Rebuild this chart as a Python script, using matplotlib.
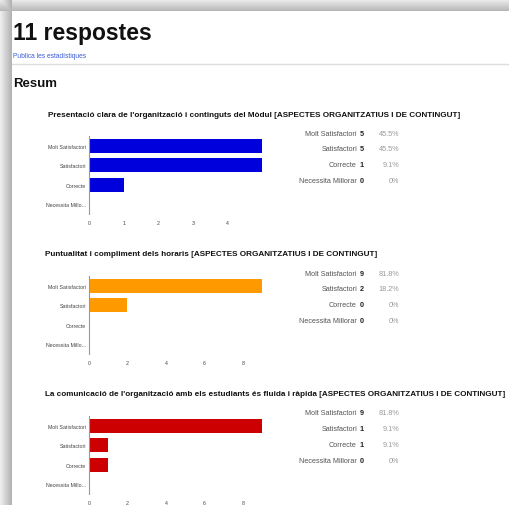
import numpy as np
import matplotlib.pyplot as plt

# survey data (11 responses)
n_total = 11
categories = ['Molt Satisfactori', 'Satisfactori', 'Correcte', 'Necessita Millorar']
axis_labels = ['Molt Satisfactori', 'Satisfactori', 'Correcte', 'Necessita Millo...']
q1 = [5, 5, 1, 0]
q2 = [9, 2, 0, 0]
q3 = [9, 1, 1, 0]
titles = [
    "Presentació clara de l'organització i continguts del Mòdul [ASPECTES ORGANITZATIUS I DE CONTINGUT]",
    "Puntualitat i compliment dels horaris [ASPECTES ORGANITZATIUS I DE CONTINGUT]",
    "La comunicació de l'organització amb els estudiants és fluida i ràpida [ASPECTES ORGANITZATIUS I DE CONTINGUT]",
]
xticks = [[0, 1, 2, 3, 4], [0, 2, 4, 6, 8], [0, 2, 4, 6, 8]]
colors = ['#0000dc', '#ff9900', '#cc0000']

W, H = 509, 506
fig = plt.figure(figsize=(W / 100, H / 100), dpi=100)

sans = ['Liberation Sans', 'DejaVu Sans']

# page background with grey shadow on left / top
bg = fig.add_axes([0, 0, 1, 1])
bg.set_xlim(0, W)
bg.set_ylim(H, 0)
bg.axis('off')
img = np.ones((H, W))
left = np.linspace(0.93, 0.70, 12)
top = np.linspace(0.93, 0.72, 12)
img[:, :12] = np.minimum(img[:, :12], left[None, :])
img[:12, :] = np.minimum(img[:12, :], top[:, None])
bg.imshow(img, cmap='gray', vmin=0, vmax=1, extent=[0, W, H, 0],
          interpolation='nearest', aspect='auto')

bg.text(13, 40, '11 respostes', family=sans, fontsize=16.5, fontweight='bold',
        va='baseline', ha='left', color='#111111')
bg.text(13, 56, 'Publica les estadístiques', family=sans, fontsize=4.8,
        va='center', ha='left', color='#3a5bd8')
bg.plot([12, W], [65, 65], color='#dddddd', lw=1)
bg.text(13, 87, 'Resum', family=sans, fontsize=9.5, fontweight='bold',
        va='baseline', ha='left', color='#111111')

title_x = [48, 45, 45]
title_y = [115, 255, 395]
axis_top = [137, 277, 417]
table_y = [134, 274, 414]
data = [q1, q2, q3]

for i in range(3):
    vals = data[i]
    bg.text(title_x[i], title_y[i], titles[i], family=sans, fontsize=5.85,
            fontweight='bold', va='center', ha='left', color='#111111')

    # response table on the right
    for j, cat in enumerate(categories):
        y = table_y[i] + j * 15.7
        pct = vals[j] / n_total * 100
        pct_txt = '0%' if vals[j] == 0 else '%.1f%%' % pct
        bg.text(357, y, cat, family=sans, fontsize=5.2, ha='right', va='center',
                color='#555555')
        bg.text(362, y, str(vals[j]), family=sans, fontsize=5.2, ha='center',
                va='center', fontweight='bold', color='#222222')
        bg.text(399, y, pct_txt, family=sans, fontsize=5.2, ha='right',
                va='center', color='#999999')

    # bar chart
    ax = fig.add_axes([89 / W, 1 - (axis_top[i] + 78) / H, 173 / W, 78 / H])
    ax.patch.set_alpha(0)
    ax.barh(range(4), vals, height=0.72, color=colors[i])
    ax.set_xlim(0, max(vals))
    ax.set_ylim(3.5, -0.5)
    ax.set_yticks(range(4))
    ax.set_yticklabels(axis_labels, family=sans, fontsize=3.8, color='#444444')
    ax.set_xticks(xticks[i])
    ax.set_xticklabels([str(t) for t in xticks[i]], family=sans, fontsize=3.8,
                       color='#444444')
    ax.tick_params(length=0, pad=2)
    ax.tick_params(axis='x', pad=4)
    for s in ['top', 'right', 'bottom']:
        ax.spines[s].set_visible(False)
    ax.spines['left'].set_color('#999999')
    ax.spines['left'].set_linewidth(0.8)

fig.savefig('out.png', dpi=100)
